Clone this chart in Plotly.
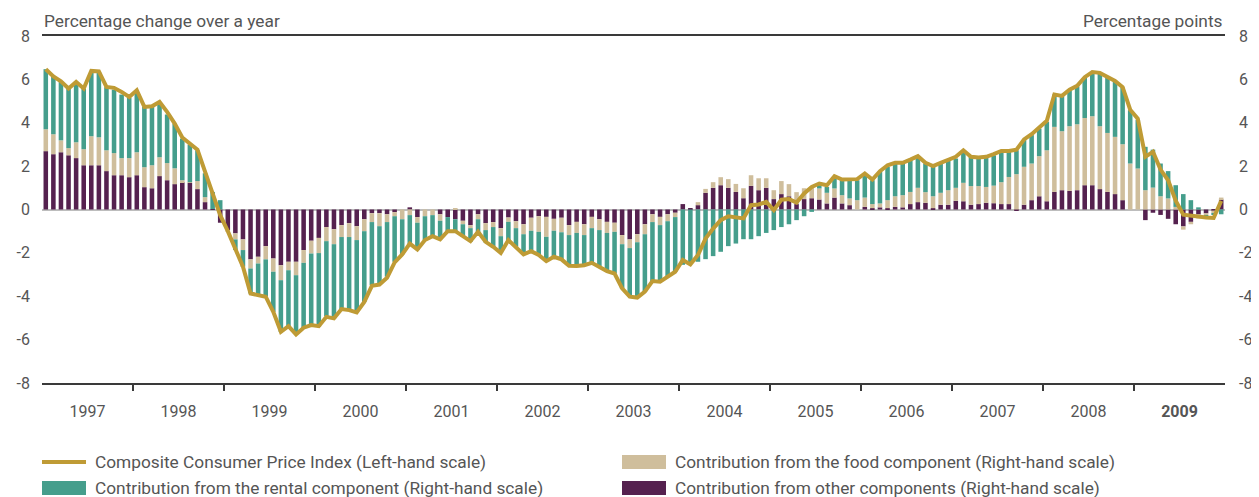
import plotly.graph_objects as go

# ---------------- data (monthly, Jan 1997 - Dec 2009) ----------------
years = list(range(1997, 2010))

others = [
    2.69, 2.55, 2.64, 2.50, 2.37, 2.04, 2.04, 2.04, 1.77, 1.58, 1.58, 1.49,
    1.58, 1.03, 0.98, 1.54, 1.35, 1.17, 1.26, 1.23, 0.94, 0.34, 0.02, -0.61,
    -0.95, -1.10, -1.38, -2.30, -2.18, -1.69, -2.26, -2.57, -2.41, -2.41, -1.87, -1.44,
    -1.31, -0.81, -0.91, -0.72, -0.63, -0.77, -0.45, -0.17, -0.17, -0.22, -0.12, 0.00,
    0.10, -0.35, 0.00, 0.00, -0.22, -0.35, -0.45, -0.52, -0.72, -0.22, -0.63, -0.58,
    -0.86, -0.37, -0.54, -0.68, -0.38, -0.31, -0.34, -0.43, -0.38, -0.72, -0.57, -0.68,
    -0.34, -0.45, -0.57, -0.61, -1.18, -1.38, -1.14, -0.68, -0.22, -0.34, -0.22, -0.15,
    0.25, 0.03, 0.20, 0.77, 1.00, 1.12, 1.00, 0.81, 0.52, 1.09, 0.89, 1.00,
    0.48, 0.71, 0.61, 0.25, 0.48, 0.52, 0.46, 0.28, 0.55, 0.28, 0.20, 0.00,
    0.12, 0.06, 0.10, 0.06, 0.12, 0.10, 0.25, 0.34, 0.31, 0.06, 0.22, 0.22,
    0.40, 0.38, 0.22, 0.25, 0.31, 0.29, 0.25, 0.25, -0.06, 0.22, 0.43, 0.61,
    0.38, 0.81, 0.89, 0.86, 0.89, 1.12, 1.12, 0.94, 0.81, 0.71, 0.43, 0.00,
    0.00, -0.49, -0.15, -0.25, -0.43, -0.68, -0.78, -0.57, -0.23, -0.18, -0.05, 0.46,
]

food = [
    1.01, 0.92, 0.55, 0.33, 0.73, 0.74, 1.34, 1.29, 0.96, 1.02, 0.79, 0.88,
    1.06, 0.92, 1.06, 0.87, 0.79, 0.73, 0.09, 0.03, 0.37, 0.23, 0.00, 0.00,
    -0.05, -0.28, -0.49, -0.42, -0.31, -0.61, -0.61, -0.69, -0.39, -0.62, -0.59, -0.59,
    -0.70, -0.65, -0.69, -0.55, -0.64, -0.64, -0.55, -0.41, -0.60, -0.36, -0.19, -0.45,
    -0.26, -0.26, -0.31, -0.26, -0.30, 0.00, 0.06, -0.16, -0.14, -0.23, -0.32, -0.23,
    -0.37, -0.20, -0.32, -0.46, -0.60, -0.72, -0.92, -0.55, -0.67, -0.46, -0.51, -0.50,
    -0.52, -0.50, -0.51, -0.42, -0.42, -0.40, -0.37, -0.46, -0.36, -0.38, -0.32, -0.20,
    0.00, 0.00, 0.14, 0.18, 0.26, 0.37, 0.40, 0.37, 0.46, 0.49, 0.55, 0.44,
    0.41, 0.60, 0.56, 0.55, 0.50, 0.52, 0.51, 0.49, 0.42, 0.38, 0.31, 0.43,
    0.43, 0.19, 0.18, 0.37, 0.49, 0.56, 0.56, 0.66, 0.49, 0.55, 0.55, 0.67,
    0.60, 0.85, 0.86, 0.83, 0.73, 0.81, 1.01, 1.25, 1.63, 1.75, 1.69, 1.85,
    2.35, 3.00, 2.72, 2.98, 3.04, 3.10, 3.18, 2.90, 2.72, 2.64, 2.58, 2.12,
    1.89, 0.89, 1.01, 0.61, 0.51, 0.12, -0.15, -0.11, -0.18, -0.10, -0.12, 0.09,
]

rental = [
    2.77, 2.69, 2.72, 2.75, 2.66, 2.80, 2.99, 3.01, 2.91, 2.93, 2.93, 2.78,
    2.75, 2.78, 2.69, 2.43, 2.24, 2.06, 1.92, 1.74, 1.42, 1.10, 0.79, 0.43,
    0.00, -0.49, -0.77, -1.15, -1.43, -1.72, -1.85, -2.38, -2.61, -2.68, -3.02, -3.35,
    -3.40, -3.46, -3.42, -3.37, -3.37, -3.31, -3.26, -2.91, -2.64, -2.52, -2.10, -1.62,
    -1.40, -1.26, -1.10, -1.00, -0.85, -0.68, -0.58, -0.58, -0.63, -0.58, -0.57, -0.96,
    -0.77, -0.84, -0.86, -0.93, -0.94, -1.07, -1.12, -1.20, -1.25, -1.42, -1.53, -1.39,
    -1.60, -1.69, -1.76, -1.92, -2.04, -2.24, -2.55, -2.65, -2.72, -2.61, -2.56, -2.52,
    -2.55, -2.50, -2.41, -2.29, -2.15, -1.95, -1.69, -1.57, -1.37, -1.37, -1.23, -1.08,
    -0.95, -0.81, -0.68, -0.49, -0.31, -0.11, 0.15, 0.27, 0.53, 0.69, 0.84, 0.92,
    1.11, 1.10, 1.46, 1.54, 1.51, 1.46, 1.46, 1.43, 1.32, 1.36, 1.35, 1.38,
    1.35, 1.43, 1.35, 1.32, 1.39, 1.40, 1.40, 1.16, 1.10, 1.23, 1.31, 1.27,
    1.31, 1.49, 1.61, 1.66, 1.75, 1.86, 2.04, 2.43, 2.55, 2.53, 2.61, 2.46,
    2.25, 2.00, 1.75, 1.51, 1.26, 1.00, 0.71, 0.43, 0.10, -0.08, -0.05, -0.22,
]

cpi = [
    6.47, 6.14, 5.91, 5.58, 5.88, 5.58, 6.39, 6.37, 5.65, 5.61, 5.42, 5.19,
    5.50, 4.73, 4.76, 4.96, 4.50, 3.96, 3.32, 3.01, 2.76, 1.75, 0.74, -0.26,
    -1.00, -1.87, -2.64, -3.87, -3.95, -4.02, -4.72, -5.64, -5.38, -5.76, -5.45, -5.33,
    -5.38, -4.95, -5.02, -4.59, -4.64, -4.75, -4.26, -3.52, -3.46, -3.15, -2.44, -2.07,
    -1.57, -1.84, -1.41, -1.23, -1.38, -1.00, -1.00, -1.23, -1.46, -1.03, -1.49, -1.72,
    -2.00, -1.41, -1.72, -2.07, -1.92, -2.10, -2.38, -2.18, -2.30, -2.60, -2.61, -2.57,
    -2.46, -2.64, -2.84, -2.95, -3.64, -4.02, -4.06, -3.79, -3.30, -3.33, -3.10, -2.87,
    -2.33, -2.53, -2.10, -1.34, -0.88, -0.49, -0.31, -0.34, -0.41, 0.20, 0.23, 0.35,
    -0.03, 0.45, 0.48, 0.32, 0.74, 1.04, 1.20, 1.12, 1.54, 1.38, 1.40, 1.40,
    1.66, 1.38, 1.77, 2.04, 2.15, 2.15, 2.30, 2.46, 2.15, 2.00, 2.15, 2.27,
    2.43, 2.73, 2.43, 2.40, 2.43, 2.55, 2.70, 2.70, 2.76, 3.23, 3.47, 3.78,
    4.09, 5.30, 5.24, 5.52, 5.70, 6.10, 6.34, 6.30, 6.10, 5.93, 5.64, 4.60,
    4.19, 2.43, 2.66, 1.84, 1.35, 0.41, -0.24, -0.29, -0.32, -0.37, -0.39, 0.40,
]

y_ticks = [-8, -6, -4, -2, 0, 2, 4, 6, 8]
y_ticktext = ["-8", "-6", "-4", "-2", "0", "2", "4", "6", "8"]
year_labels = [str(y) for y in years[:-1]] + ["<b>2009</b>"]

# monthly positions (centre of each month on a continuous year scale)
x = [yr + (m + 0.5) / 12 for yr in years for m in range(12)]

# ---------------- styling ----------------
C_LINE = "#BF9B35"
C_FOOD = "#CFBE9C"
C_RENT = "#459E8C"
C_OTH = "#55214F"
TXT = "#555555"
AXC = "#3a3a3a"
FONT = "Roboto"
TSIZE = 17.3

# page body has an 8px margin, so the figure is 8px smaller and offset
W, H = 1251, 489
ML, MR, MT, MB = 34, 34, 28, 114

fig = go.Figure()
fig.add_trace(go.Bar(x=x, y=others, name="Contribution from other components (Right-hand scale)",
                     marker=dict(color=C_OTH, line=dict(width=0)), yaxis="y2"))
fig.add_trace(go.Bar(x=x, y=food, name="Contribution from the food component (Right-hand scale)",
                     marker=dict(color=C_FOOD, line=dict(width=0)), yaxis="y2"))
fig.add_trace(go.Bar(x=x, y=rental, name="Contribution from the rental component (Right-hand scale)",
                     marker=dict(color=C_RENT, line=dict(width=0)), yaxis="y2"))
fig.add_trace(go.Scatter(x=x, y=cpi, name="Composite Consumer Price Index (Left-hand scale)",
                         mode="lines", line=dict(color=C_LINE, width=4), yaxis="y"))

fig.update_layout(
    width=W, height=H,
    margin=dict(l=ML, r=MR, t=MT, b=MB, autoexpand=False),
    paper_bgcolor="white", plot_bgcolor="white",
    barmode="relative", bargap=0.4,
    showlegend=False,
    font=dict(family=FONT, size=16, color=TXT),
    xaxis=dict(
        range=[1997, 2010], tickmode="array",
        tickvals=[yr + 0.5 for yr in years], ticktext=year_labels,
        ticks="", showgrid=False, zeroline=False, automargin=False,
        showline=True, linecolor=AXC, linewidth=2, mirror=True,
        ticklabelstandoff=13,
        tickfont=dict(size=16, color=TXT),
        minor=dict(tickmode="array", tickvals=years[1:], ticks="outside",
                   ticklen=6, tickwidth=2, tickcolor=AXC, showgrid=False),
    ),
    yaxis=dict(
        range=[-8, 8], tickmode="array", tickvals=y_ticks, ticktext=y_ticktext,
        side="left", overlaying="y2", showgrid=False, zeroline=False, automargin=False,
        ticks="", ticklabelstandoff=11, tickfont=dict(size=16, color=TXT),
    ),
    yaxis2=dict(
        range=[-8, 8], tickmode="array", tickvals=y_ticks, ticktext=y_ticktext,
        side="right", anchor="x", showgrid=False, automargin=False,
        zeroline=True, zerolinecolor="#bdbdbd", zerolinewidth=1.5,
        ticks="", ticklabelstandoff=13, tickfont=dict(size=16, color=TXT),
    ),
)

# axis titles
fig.add_annotation(text="Percentage change over a year", xref="paper", yref="paper",
                   x=0, y=1, xanchor="left", yanchor="bottom", yshift=3, showarrow=False,
                   font=dict(size=TSIZE, color=TXT))
fig.add_annotation(text="Percentage points", xref="paper", yref="paper",
                   x=1, y=1, xanchor="right", yanchor="bottom", yshift=3, showarrow=False,
                   font=dict(size=TSIZE, color=TXT))

# legend (drawn manually to match the wide swatches); positions in page pixels
PW, PH = W - ML - MR, H - MT - MB
PLOT_LEFT, PLOT_BOTTOM = 42, 383


def px(xp):
    return (xp - PLOT_LEFT) / PW


def py(yp):
    return (PLOT_BOTTOM - yp) / PH


legend_items = [
    ("line", C_LINE, "Composite Consumer Price Index (Left-hand scale)", 42, 462),
    ("rect", C_FOOD, "Contribution from the food component (Right-hand scale)", 622, 462),
    ("rect", C_RENT, "Contribution from the rental component (Right-hand scale)", 42, 488),
    ("rect", C_OTH, "Contribution from other components (Right-hand scale)", 622, 488),
]
for kind, col, label, x0, yc in legend_items:
    if kind == "line":
        fig.add_shape(type="line", xref="paper", yref="paper",
                      x0=px(x0), x1=px(x0 + 44), y0=py(yc), y1=py(yc),
                      line=dict(color=col, width=4))
    else:
        fig.add_shape(type="rect", xref="paper", yref="paper",
                      x0=px(x0), x1=px(x0 + 44), y0=py(yc - 7), y1=py(yc + 7),
                      line=dict(width=0), fillcolor=col)
    fig.add_annotation(text=label, xref="paper", yref="paper",
                       x=px(x0 + 51), y=py(yc), xanchor="left", yanchor="middle",
                       showarrow=False, font=dict(size=TSIZE, color=TXT))

fig.write_html("out.html")
